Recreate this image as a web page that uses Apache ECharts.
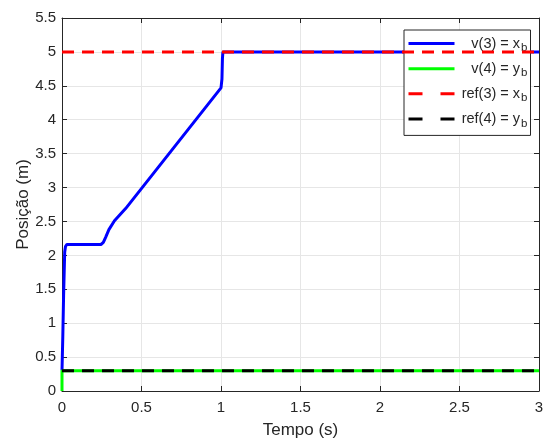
<!DOCTYPE html>
<html>
<head>
<meta charset="utf-8">
<script src="https://cdn.jsdelivr.net/npm/echarts@6/dist/echarts.min.js"></script>
<style>html,body{margin:0;padding:0;background:#fff;}#c{width:549px;height:444px;}</style>
</head>
<body>
<div id="c"></div>
<script>
// Data
const xTicks = [0, 0.5, 1, 1.5, 2, 2.5, 3];
const yTicks = [0, 0.5, 1, 1.5, 2, 2.5, 3, 3.5, 4, 4.5, 5, 5.5];
const seriesNames = ['v(3) = x_b', 'v(4) = y_b', 'ref(3) = x_b', 'ref(4) = y_b'];

const v3T = [0, 0.005, 0.01, 0.017, 0.022, 0.03, 0.04, 0.245, 0.26, 0.275, 0.295, 0.33, 0.4, 1.0, 1.006, 1.009, 1.012, 3];
const v3V = [0.3, 0.8, 1.4, 2.05, 2.13, 2.16, 2.16, 2.16, 2.19, 2.27, 2.38, 2.51, 2.69, 4.47, 4.6, 4.9, 5.0, 5.0];

const v4T = [0, 0, 3];
const v4V = [0, 0.3, 0.3];

const ref3T = [0, 3];
const ref3V = [5, 5];

const ref4T = [0, 3];
const ref4V = [0.3, 0.3];

function pairs(t, v) { return t.map((x, i) => [x, v[i]]); }

const chart = echarts.init(document.getElementById('c'), null, {renderer: 'canvas'});
const font = 'Liberation Sans, Arial, Helvetica, sans-serif';
const axisColor = '#262626';
const gridColor = '#e6e6e6';

function legendFmt(name) {
  const parts = name.split('_');
  return '{t|' + parts[0] + '}{s|' + parts[1] + '}';
}

const noSym = {opacity: 0};
const option = {
  animation: false,
  backgroundColor: '#ffffff',
  grid: {left: 62, right: 10, top: 18, bottom: 49, containLabel: false},
  xAxis: [{
    type: 'value', min: 0, max: 3, interval: 0.5,
    name: 'Tempo (s)', nameLocation: 'middle', nameGap: 31, nameMoveOverlap: false,
    nameTextStyle: {fontFamily: font, fontSize: 17, color: axisColor},
    axisLine: {show: true, lineStyle: {color: axisColor, width: 1}},
    axisTick: {show: true, inside: true, length: 5, lineStyle: {color: axisColor}},
    axisLabel: {fontFamily: font, fontSize: 15, color: axisColor, margin: 9,
      formatter: v => String(v)},
    splitLine: {show: true, lineStyle: {color: gridColor, width: 1}}
  }, {
    type: 'value', min: 0, max: 3, interval: 0.5, position: 'top',
    axisLine: {show: true, onZero: false, lineStyle: {color: axisColor, width: 1}},
    axisTick: {show: true, inside: true, length: 5, lineStyle: {color: axisColor}},
    axisLabel: {show: false}, splitLine: {show: false}
  }],
  yAxis: [{
    type: 'value', min: 0, max: 5.5, interval: 0.5,
    name: 'Posição (m)', nameLocation: 'middle', nameGap: 30, nameMoveOverlap: false,
    nameTextStyle: {fontFamily: font, fontSize: 17, color: axisColor},
    axisLine: {show: true, lineStyle: {color: axisColor, width: 1}},
    axisTick: {show: true, inside: true, length: 5, lineStyle: {color: axisColor}},
    axisLabel: {fontFamily: font, fontSize: 15, color: axisColor, margin: 6,
      formatter: v => String(v)},
    splitLine: {show: true, lineStyle: {color: gridColor, width: 1}}
  }, {
    type: 'value', min: 0, max: 5.5, interval: 0.5, position: 'right',
    axisLine: {show: true, onZero: false, lineStyle: {color: axisColor, width: 1}},
    axisTick: {show: true, inside: true, length: 5, lineStyle: {color: axisColor}},
    axisLabel: {show: false}, splitLine: {show: false}
  }],
  legend: {
    left: 404, top: 30, orient: 'vertical',
    padding: [6, 3, 6, 3], itemGap: 7, itemWidth: 46, itemHeight: 19,
    backgroundColor: '#ffffff', borderColor: axisColor, borderWidth: 1,
    itemStyle: noSym,
    data: [
      {name: seriesNames[0], itemStyle: noSym, lineStyle: {type: 'solid', width: 3}},
      {name: seriesNames[1], itemStyle: noSym, lineStyle: {type: 'solid', width: 3}},
      {name: seriesNames[2], itemStyle: noSym, lineStyle: {type: [14, 18], width: 3}},
      {name: seriesNames[3], itemStyle: noSym, lineStyle: {type: [14, 18], width: 3}}
    ],
    formatter: legendFmt,
    textStyle: {
      fontFamily: font, color: axisColor, width: 68, align: 'left',
      rich: {
        t: {fontFamily: font, fontSize: 14.5, color: axisColor, align: 'right'},
        s: {fontFamily: font, fontSize: 11.5, color: axisColor, align: 'right', verticalAlign: 'bottom', padding: [9, 0, 0, 1]}
      }
    }
  },
  series: [
    {name: seriesNames[0], type: 'line', data: pairs(v3T, v3V), showSymbol: false, symbol: 'none',
      lineStyle: {color: '#0000ff', width: 3}, itemStyle: {color: '#0000ff'}, z: 2},
    {name: seriesNames[1], type: 'line', data: pairs(v4T, v4V), showSymbol: false, symbol: 'none',
      lineStyle: {color: '#00ff00', width: 3}, itemStyle: {color: '#00ff00'}, z: 3},
    {name: seriesNames[2], type: 'line', data: pairs(ref3T, ref3V), showSymbol: false, symbol: 'none',
      lineStyle: {color: '#ff0000', width: 3, type: [12, 8]}, itemStyle: {color: '#ff0000'}, z: 4},
    {name: seriesNames[3], type: 'line', data: pairs(ref4T, ref4V), showSymbol: false, symbol: 'none',
      lineStyle: {color: '#000000', width: 3, type: [12, 8]}, itemStyle: {color: '#000000'}, z: 5}
  ]
};
chart.setOption(option);
</script>
</body>
</html>
